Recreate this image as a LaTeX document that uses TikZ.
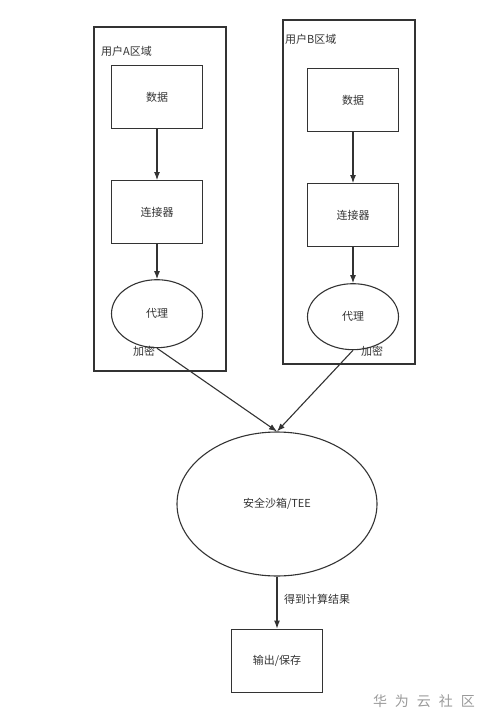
\documentclass[tikz,border=0pt]{standalone}
\usepackage{fontspec}
\setmainfont{Noto Sans CJK SC}
\usepackage{xcolor}
\usetikzlibrary{arrows.meta,positioning,shapes.geometric}
\definecolor{ink}{HTML}{333333}
\definecolor{mark}{HTML}{9A9A9A}

\begin{document}
\begin{tikzpicture}[
  x=1pt, y=-1pt,
  node distance=5mm,
  zone/.style={draw=ink, line width=1.1pt, minimum width=132pt, minimum height=344pt, inner sep=0pt},
  box/.style={draw=ink, line width=1.1pt, text=ink, font=\fontsize{11}{13}\selectfont,
              minimum width=91pt, minimum height=63pt, inner sep=0pt},
  oval/.style={draw=ink, ellipse, line width=1.1pt, text=ink, font=\fontsize{11}{13}\selectfont,
               minimum width=91pt, minimum height=68pt, inner sep=0pt},
  tag/.style={text=ink, font=\fontsize{11}{13}\selectfont, inner sep=0pt},
  arr/.style={draw=ink, line width=1.1pt, -{Latex[length=8pt,width=6pt]}}]
\useasboundingbox (0,0) rectangle (490,726);
% user A
\node[zone] (zoneA) at (160,199) {};
\node[tag, anchor=west] (nameA) at (101,51) {用户A区域};
\node[box] (dataA) at (157,97) {数据};
\node[box, below=51pt of dataA] (connA) {连接器};
\node[oval, below=35pt of connA] (proxyA) {代理};
\node[tag] (encA) at (144,351) {加密};
% user B
\node[zone] (zoneB) at (349,192) {};
\node[tag, anchor=west] (nameB) at (285,39) {用户B区域};
\node[box] (dataB) at (353,100) {数据};
\node[box, below=51pt of dataB] (connB) {连接器};
\node[oval, below=36pt of connB, minimum height=66pt] (proxyB) {代理};
\node[tag] (encB) at (372,351) {加密};
% sandbox
\node[oval, minimum width=200pt, minimum height=144pt] (tee) at (277,504) {安全沙箱/TEE};
\node[box, below=52pt of tee] (out) {输出/保存};
\node[tag, anchor=west] (result) at (284,599) {得到计算结果};
\foreach \a/\b in {dataA/connA,connA/proxyA,dataB/connB,connB/proxyB,proxyA/tee,proxyB/tee,tee/out}
  \draw[arr] (\a.south) -- (\b.north);
% watermark
\node[text=mark, font=\fontsize{14}{16}\selectfont, inner sep=0pt] (wm) at (424,701)
  {华\hspace{8pt}为\hspace{8pt}云\hspace{8pt}社\hspace{8pt}区};
\end{tikzpicture}
\end{document}
